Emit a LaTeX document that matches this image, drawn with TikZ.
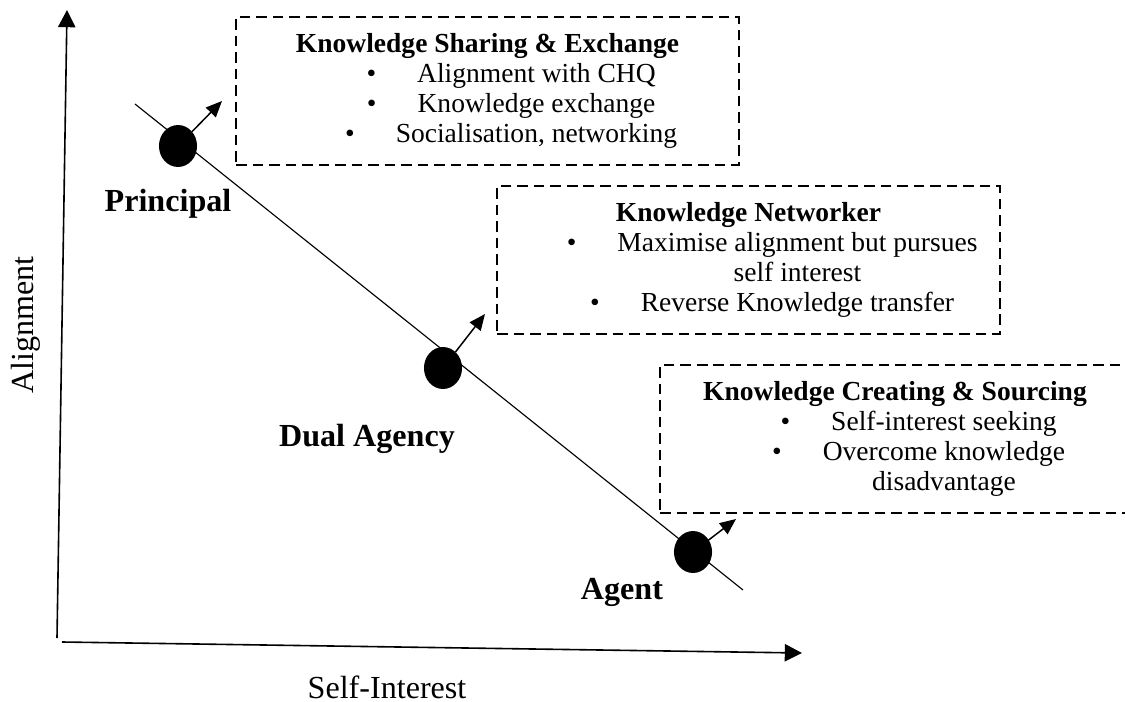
\documentclass[tikz,border=0pt]{standalone}
\usepackage{fontspec}
\setmainfont{Liberation Serif}
\usetikzlibrary{shapes.geometric,arrows.meta}

\newcommand{\bitem}[1]{\hspace*{42.7pt}\llap{\textbullet\hspace{17.9pt}}#1}
\newcommand{\bcont}[1]{\hspace*{42.7pt}#1}

\begin{document}
\begin{tikzpicture}
  [x=0.436pt,y=-0.436pt,
   infobox/.style={rectangle,draw=black,line width=0.95pt,dash pattern=on 4.6pt off 2.6pt,
                   align=center,inner sep=0,outer sep=0,
                   minimum width=219.3pt,minimum height=64.5pt,
                   font=\fontsize{12}{13}\selectfont},
   agentdot/.style={ellipse,fill=black,inner sep=0,outer sep=0,
                    minimum width=16.6pt,minimum height=18.3pt},
   role/.style={font=\fontsize{14}{16}\selectfont\bfseries},
   axislabel/.style={font=\fontsize{14}{16}\selectfont},
   axis/.style={line width=0.7pt,-{Triangle[length=7.5pt,width=7.5pt]}},
   move/.style={line width=0.65pt,-{Triangle[length=7pt,width=6pt]}}]
  \useasboundingbox (0,0) rectangle (1125,702);
  % axes
  \coordinate (ybot) at (57,638);
  \coordinate (ytop) at (67,10);
  \coordinate (xleft) at (62,642);
  \coordinate (xright) at (802,653);
  \draw[axis] (ybot) to (ytop);
  \draw[axis] (xleft) to (xright);
  \node[axislabel,rotate=90,anchor=base] (ylab) at (33,325) {Alignment};
  \node[axislabel,anchor=base] (xlab) at (387,698) {Self-Interest};
  % diagonal
  \coordinate (dstart) at (135,104);
  \coordinate (dend) at (743,590);
  \draw[line width=0.5pt] (dstart) to (dend);
  % roles
  \node[agentdot] (pdot) at (178,146) {};
  \node[agentdot] (ddot) at (443,368) {};
  \node[agentdot] (adot) at (693,552) {};
  \coordinate (ptip) at (222,101);
  \coordinate (dtip) at (485,314);
  \coordinate (atip) at (736,519);
  \draw[move] (pdot) to (ptip);
  \draw[move] (ddot) to (dtip);
  \draw[move] (adot) to (atip);
  \node[role,anchor=base] (plab) at (168,212) {Principal};
  \node[role,anchor=base] (dlab) at (367,446) {Dual Agency};
  \node[role,anchor=base] (alab) at (622,599) {Agent};
  % boxes
  \node[infobox] (sharing) at (487.5,91)
    {\textbf{Knowledge Sharing \& Exchange}\\
     \bitem{Alignment with CHQ}\\
     \bitem{Knowledge exchange}\\
     \bitem{Socialisation, networking}};
  \node[infobox] (networker) at (748.5,260)
    {\textbf{Knowledge Networker}\\
     \bitem{Maximise alignment but pursues}\\
     \bcont{self interest}\\
     \bitem{Reverse Knowledge transfer}};
  \node[infobox,minimum width=204.9pt] (creating) at (895,439)
    {\textbf{Knowledge Creating \& Sourcing}\\
     \bitem{Self-interest seeking}\\
     \bitem{Overcome knowledge}\\
     \bcont{disadvantage}};
\end{tikzpicture}
\end{document}
